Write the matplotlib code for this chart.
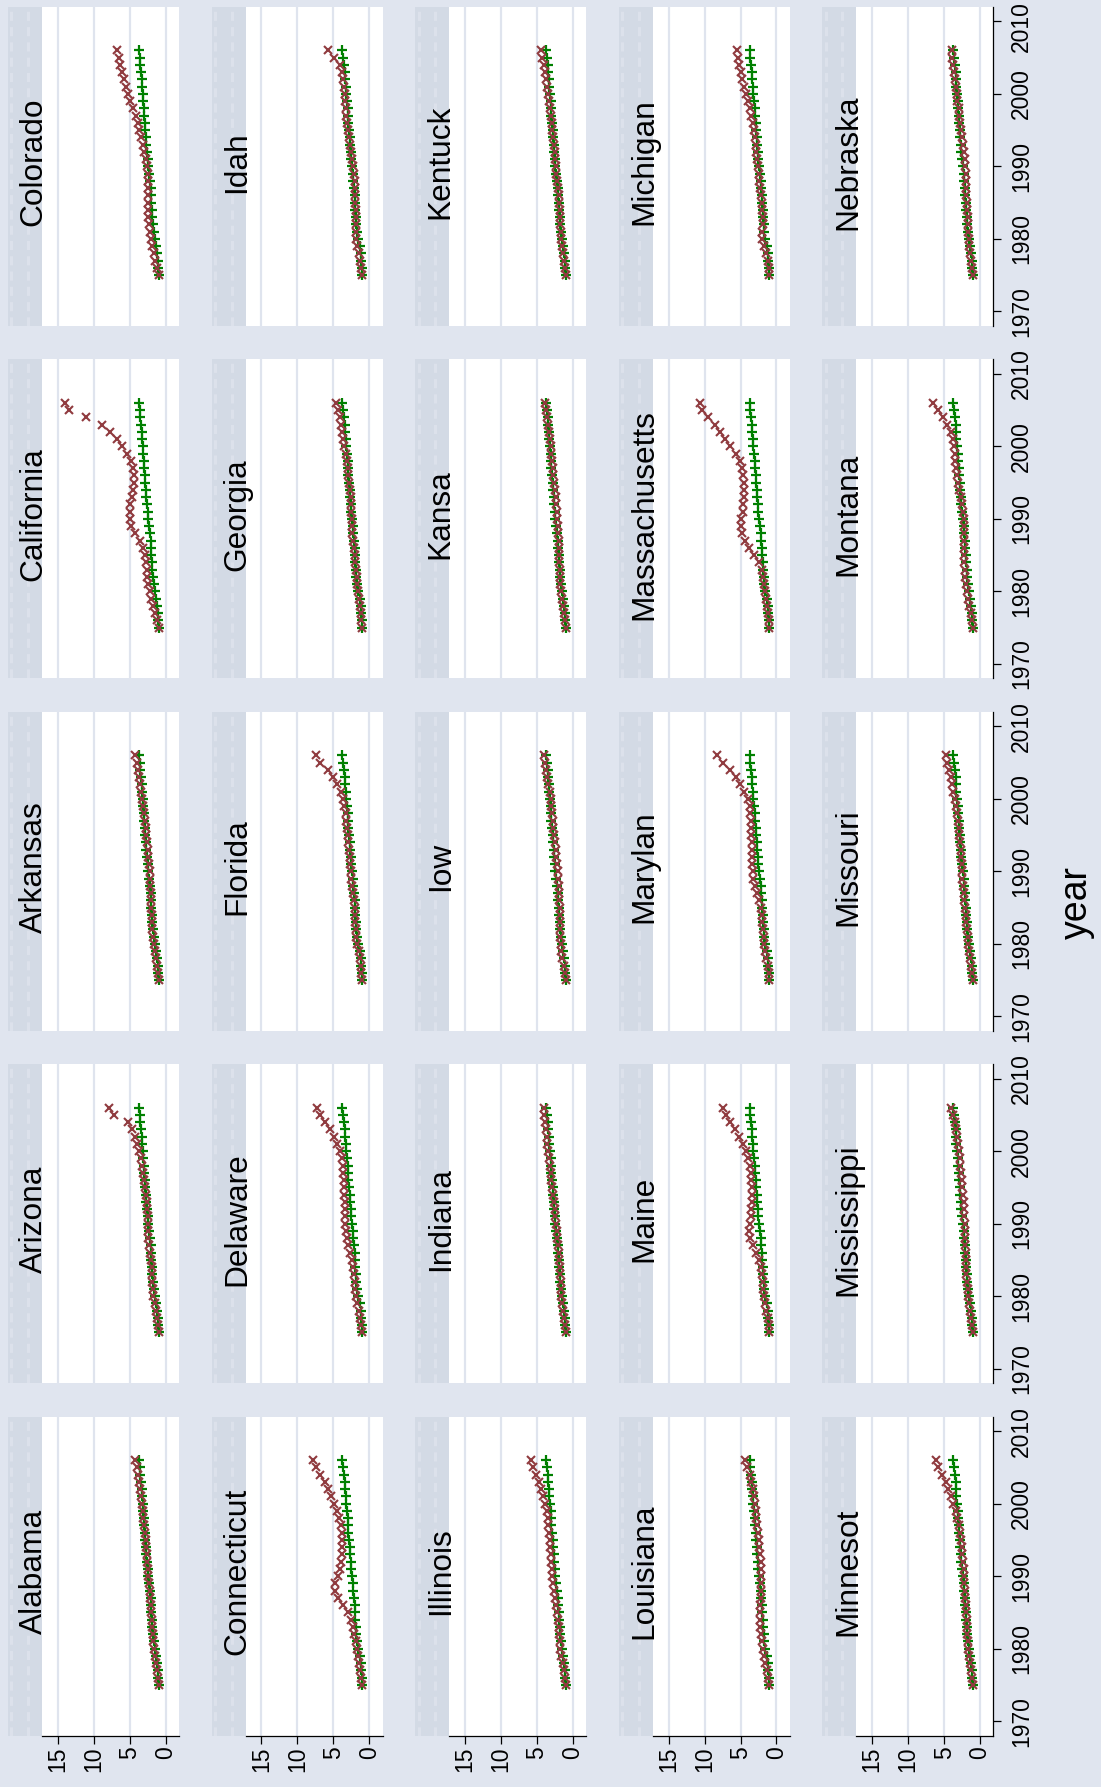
import matplotlib.pyplot as plt
import matplotlib.transforms as mtransforms
import numpy as np

plt.rcParams['font.family'] = ['Liberation Sans', 'DejaVu Sans']

years = np.arange(1975, 2007)

states = ['Alabama', 'Arizona', 'Arkansas', 'California', 'Colorado',
          'Connecticut', 'Delaware', 'Florida', 'Georgia', 'Idah',
          'Illinois', 'Indiana', 'Iow', 'Kansa', 'Kentuck',
          'Louisiana', 'Maine', 'Marylan', 'Massachusetts', 'Michigan',
          'Minnesot', 'Mississippi', 'Missouri', 'Montana', 'Nebraska']

# price level, 1975 = 1
cpi = [1.00, 1.06, 1.13, 1.21, 1.35, 1.53, 1.69, 1.79, 1.85, 1.93,
       2.00, 2.03, 2.11, 2.20, 2.30, 2.43, 2.53, 2.60, 2.68, 2.75,
       2.83, 2.91, 2.98, 3.02, 3.09, 3.20, 3.29, 3.34, 3.42, 3.51,
       3.63, 3.75]

# house price index by state, 1975 = 1
hpi = [
    [1.0, 1.1, 1.2, 1.35, 1.5, 1.6, 1.7, 1.8, 1.85, 1.9, 2.0, 2.05, 2.15, 2.2, 2.3, 2.4, 2.45, 2.55, 2.6, 2.7, 2.8, 2.9, 3.0, 3.1, 3.2, 3.3, 3.45, 3.55, 3.7, 3.85, 4.05, 4.3],
    [1.0, 1.1, 1.2, 1.35, 1.55, 1.7, 1.8, 1.85, 1.9, 1.95, 2.05, 2.2, 2.3, 2.4, 2.45, 2.5, 2.5, 2.55, 2.6, 2.7, 2.85, 2.95, 3.1, 3.25, 3.4, 3.65, 4.0, 4.3, 4.7, 5.3, 7.2, 7.9],
    [1.0, 1.1, 1.2, 1.35, 1.5, 1.65, 1.75, 1.85, 1.9, 1.95, 2.0, 2.05, 2.1, 2.15, 2.2, 2.25, 2.3, 2.4, 2.5, 2.6, 2.7, 2.8, 2.9, 3.0, 3.1, 3.25, 3.4, 3.55, 3.7, 3.85, 4.05, 4.25],
    [1.0, 1.2, 1.45, 1.7, 2.0, 2.25, 2.45, 2.55, 2.6, 2.7, 2.9, 3.2, 3.6, 4.2, 4.8, 4.95, 5.0, 4.9, 4.7, 4.55, 4.45, 4.4, 4.5, 4.8, 5.4, 6.1, 6.8, 7.7, 8.9, 11.1, 13.5, 14.0],
    [1.0, 1.2, 1.45, 1.65, 1.85, 2.05, 2.25, 2.35, 2.4, 2.45, 2.45, 2.45, 2.45, 2.45, 2.5, 2.65, 2.8, 3.0, 3.2, 3.45, 3.65, 3.9, 4.15, 4.5, 4.9, 5.2, 5.5, 5.75, 6.05, 6.3, 6.55, 6.8],
    [1.0, 1.1, 1.25, 1.4, 1.6, 1.75, 1.85, 2.1, 2.3, 2.6, 3.0, 3.7, 4.4, 4.8, 4.7, 4.4, 4.1, 3.95, 3.85, 3.8, 3.75, 3.8, 4.0, 4.2, 4.5, 4.9, 5.3, 5.7, 6.2, 6.8, 7.4, 7.8],
    [1.0, 1.1, 1.25, 1.45, 1.65, 1.85, 1.95, 2.05, 2.15, 2.3, 2.45, 2.7, 2.95, 3.15, 3.3, 3.35, 3.35, 3.35, 3.4, 3.45, 3.5, 3.55, 3.6, 3.7, 3.85, 4.1, 4.5, 4.9, 5.5, 6.1, 6.8, 7.3],
    [1.0, 1.1, 1.2, 1.35, 1.5, 1.7, 1.8, 1.85, 1.95, 2.0, 2.05, 2.15, 2.25, 2.4, 2.5, 2.6, 2.65, 2.7, 2.8, 2.9, 3.0, 3.1, 3.2, 3.3, 3.45, 3.6, 4.0, 4.5, 5.1, 5.8, 6.8, 7.4],
    [1.0, 1.1, 1.2, 1.35, 1.5, 1.6, 1.7, 1.75, 1.85, 1.95, 2.05, 2.15, 2.25, 2.35, 2.4, 2.45, 2.5, 2.55, 2.6, 2.7, 2.8, 2.9, 3.0, 3.15, 3.3, 3.45, 3.6, 3.75, 3.9, 4.1, 4.3, 4.6],
    [1.0, 1.15, 1.3, 1.45, 1.65, 1.8, 1.85, 1.9, 1.9, 1.9, 1.95, 1.95, 2.0, 2.05, 2.1, 2.2, 2.35, 2.5, 2.7, 2.85, 3.0, 3.1, 3.2, 3.3, 3.35, 3.4, 3.5, 3.6, 3.75, 4.1, 4.9, 5.7],
    [1.0, 1.1, 1.25, 1.4, 1.6, 1.75, 1.85, 1.9, 1.95, 2.05, 2.2, 2.35, 2.5, 2.65, 2.8, 2.85, 2.9, 3.0, 3.05, 3.15, 3.2, 3.3, 3.4, 3.5, 3.65, 3.85, 4.1, 4.4, 4.7, 5.1, 5.5, 5.8],
    [1.0, 1.1, 1.2, 1.35, 1.5, 1.6, 1.65, 1.7, 1.75, 1.8, 1.9, 1.95, 2.05, 2.15, 2.25, 2.35, 2.45, 2.55, 2.65, 2.8, 2.9, 3.0, 3.1, 3.2, 3.35, 3.45, 3.55, 3.65, 3.75, 3.85, 3.95, 4.0],
    [1.0, 1.15, 1.3, 1.45, 1.6, 1.7, 1.75, 1.8, 1.8, 1.85, 1.85, 1.9, 1.95, 2.0, 2.05, 2.1, 2.2, 2.3, 2.4, 2.5, 2.6, 2.7, 2.8, 2.9, 3.0, 3.1, 3.25, 3.4, 3.55, 3.7, 3.85, 3.95],
    [1.0, 1.1, 1.25, 1.4, 1.55, 1.65, 1.75, 1.8, 1.85, 1.9, 1.95, 2.0, 2.0, 2.05, 2.1, 2.15, 2.2, 2.3, 2.4, 2.5, 2.6, 2.7, 2.8, 2.9, 3.0, 3.1, 3.25, 3.35, 3.45, 3.55, 3.7, 3.85],
    [1.0, 1.1, 1.25, 1.4, 1.5, 1.6, 1.7, 1.75, 1.8, 1.85, 1.95, 2.0, 2.1, 2.2, 2.3, 2.35, 2.45, 2.55, 2.65, 2.75, 2.85, 2.95, 3.1, 3.2, 3.35, 3.5, 3.6, 3.75, 3.9, 4.05, 4.25, 4.4],
    [1.0, 1.15, 1.35, 1.55, 1.75, 1.9, 2.05, 2.2, 2.3, 2.3, 2.3, 2.25, 2.15, 2.1, 2.1, 2.1, 2.15, 2.2, 2.3, 2.4, 2.5, 2.6, 2.7, 2.8, 2.9, 3.0, 3.15, 3.3, 3.5, 3.75, 4.05, 4.4],
    [1.0, 1.1, 1.25, 1.4, 1.6, 1.75, 1.85, 1.9, 2.0, 2.2, 2.5, 2.9, 3.3, 3.7, 3.8, 3.7, 3.55, 3.5, 3.45, 3.45, 3.45, 3.5, 3.55, 3.7, 3.95, 4.3, 4.7, 5.2, 5.8, 6.4, 7.0, 7.4],
    [1.0, 1.1, 1.25, 1.4, 1.55, 1.7, 1.8, 1.85, 1.95, 2.05, 2.2, 2.4, 2.65, 2.95, 3.2, 3.3, 3.35, 3.35, 3.4, 3.45, 3.5, 3.5, 3.55, 3.65, 3.75, 4.0, 4.5, 5.1, 5.7, 6.5, 7.5, 8.3],
    [1.0, 1.1, 1.2, 1.35, 1.5, 1.65, 1.75, 1.85, 2.05, 2.5, 3.1, 3.8, 4.4, 4.8, 5.0, 4.9, 4.7, 4.6, 4.55, 4.55, 4.55, 4.6, 4.8, 5.1, 5.7, 6.4, 7.1, 7.8, 8.6, 9.5, 10.3, 10.7],
    [1.0, 1.1, 1.25, 1.45, 1.7, 1.95, 1.95, 1.9, 1.9, 1.95, 2.0, 2.1, 2.25, 2.4, 2.5, 2.6, 2.7, 2.8, 2.9, 3.0, 3.1, 3.3, 3.5, 3.75, 4.0, 4.25, 4.5, 4.75, 4.95, 5.15, 5.35, 5.45],
    [1.0, 1.15, 1.3, 1.45, 1.6, 1.7, 1.75, 1.8, 1.8, 1.85, 1.9, 1.95, 2.05, 2.15, 2.2, 2.25, 2.3, 2.4, 2.45, 2.55, 2.65, 2.8, 2.95, 3.15, 3.4, 3.7, 4.0, 4.4, 4.8, 5.3, 5.9, 6.2],
    [1.0, 1.1, 1.2, 1.35, 1.5, 1.65, 1.75, 1.85, 1.9, 1.95, 2.0, 2.0, 2.05, 2.05, 2.1, 2.15, 2.2, 2.25, 2.3, 2.4, 2.45, 2.55, 2.65, 2.75, 2.85, 2.95, 3.05, 3.2, 3.35, 3.55, 3.8, 4.05],
    [1.0, 1.1, 1.25, 1.4, 1.55, 1.65, 1.75, 1.85, 1.9, 2.0, 2.1, 2.2, 2.3, 2.4, 2.45, 2.5, 2.55, 2.6, 2.7, 2.8, 2.9, 3.0, 3.1, 3.2, 3.35, 3.5, 3.7, 3.9, 4.1, 4.3, 4.55, 4.75],
    [1.0, 1.15, 1.3, 1.5, 1.7, 1.85, 1.95, 2.05, 2.1, 2.2, 2.25, 2.25, 2.2, 2.2, 2.2, 2.25, 2.35, 2.5, 2.7, 2.9, 3.05, 3.2, 3.35, 3.45, 3.55, 3.65, 3.8, 4.1, 4.55, 5.2, 5.9, 6.5],
    [1.0, 1.1, 1.25, 1.35, 1.5, 1.6, 1.65, 1.7, 1.75, 1.8, 1.85, 1.9, 1.9, 1.95, 2.0, 2.05, 2.15, 2.25, 2.35, 2.5, 2.6, 2.75, 2.9, 3.0, 3.15, 3.25, 3.4, 3.55, 3.65, 3.75, 3.85, 3.95],
]

value_ticks = [0, 5, 10, 15]
year_ticks = [1970, 1980, 1990, 2000, 2010]

W, H = 1101, 1787
bg = '#E0E5EF'
strip_col = '#D3DAE5'
grid_col = '#DFE4EE'
red = '#903B3F'
green = '#008000'

fig = plt.figure(figsize=(W / 100, H / 100), dpi=100, facecolor=bg)


def rect(x0, y0, x1, y1):
    # pixel box (top-left origin) -> figure fraction
    return [x0 / W, 1 - y1 / H, (x1 - x0) / W, (y1 - y0) / H]


for i, name in enumerate(states):
    col, row = i // 5, 4 - i % 5
    left = 8 + 203.6 * col
    top = 7 + 352.4 * row
    bottom = top + 319

    # title strip running down the left side of each panel
    sax = fig.add_axes(rect(left, top, left + 34, bottom))
    sax.set_facecolor(strip_col)
    sax.set_xlim(0, 1)
    sax.set_ylim(0, 1)
    sax.set_xticks([])
    sax.set_yticks([])
    for sp in sax.spines.values():
        sp.set_visible(False)
    for xs in (0.1, 0.59):
        sax.axvline(xs, color='#DCE1EB', lw=2.2, dashes=(3, 2))
    fig.text((left + 33.5) / W, 1 - (top + 155) / H, name, rotation=90,
             rotation_mode='anchor', ha='center', va='baseline', fontsize=22.8)

    ax = fig.add_axes(rect(left + 34, top, left + 171, bottom))
    ax.set_facecolor('white')
    ax.plot(cpi, years, '+', color=green, ms=7.6, mew=1.6)
    ax.plot(hpi[i], years, 'x', color=red, ms=6.0, mew=1.5)
    ax.set_xlim(17.2, -1.85)
    ax.set_ylim(1968, 2012)
    ax.set_xticks(value_ticks)
    ax.set_yticks(year_ticks)
    ax.grid(axis='x', color=grid_col, lw=1.6)
    ax.set_axisbelow(True)
    for sp in ax.spines.values():
        sp.set_visible(False)
    ax.yaxis.tick_right()

    is_bottom = row == 4
    is_right = col == 4
    ax.spines['bottom'].set_visible(is_bottom)
    ax.spines['right'].set_visible(is_right)
    ax.spines['bottom'].set_linewidth(0.9)
    ax.spines['right'].set_linewidth(0.9)
    ax.tick_params(axis='x', bottom=is_bottom, labelbottom=is_bottom, length=6,
                   width=0.9, labelsize=16.5, labelrotation=90, pad=2)
    ax.tick_params(axis='y', left=False, labelleft=False, right=is_right,
                   labelright=is_right, length=6, width=0.9, labelsize=16.5,
                   labelrotation=90, pad=6)
    ylabels = ax.get_yticklabels()
    plt.setp(ylabels, va='center')
    if is_right and row == 0:
        # keep the top 2010 label inside the page
        top_lbl = ylabels[-1]
        top_lbl.set_transform(top_lbl.get_transform() + mtransforms.ScaledTranslation(0, -5 / 100, fig.dpi_scale_trans))

fig.text(1077 / W, 1 - 903 / H, 'year', rotation=90, ha='center', va='center',
         fontsize=27)

fig.savefig('out.png', dpi=100, facecolor=bg)
